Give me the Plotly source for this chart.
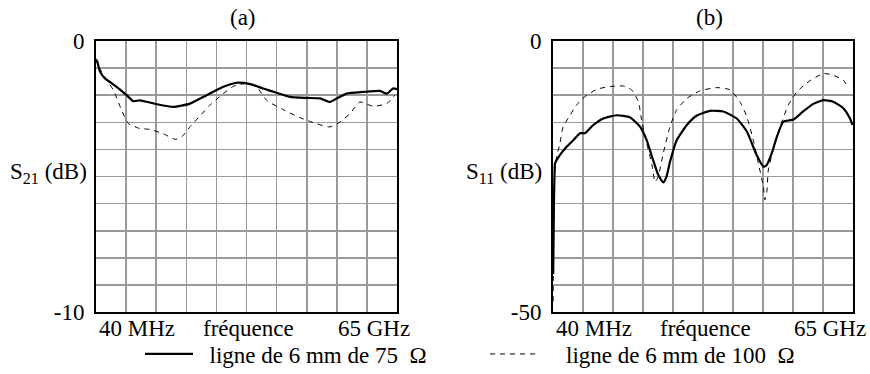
import plotly.graph_objects as go

# ---------------- data ----------------
# panel (a): S21 (dB) vs frequency (GHz)
freq_a_75 = [0.04, 0.29, 0.86, 1.94, 4.46, 6.62, 8.06, 9.5, 13.1, 16.7, 20.3, 23.9, 27.5, 30.4,
             33.3, 36.1, 39.0, 41.9, 45.5, 48.4, 50.5, 52.0, 54.1, 57.7, 61.3, 62.8, 64.2, 65.0]
s21_75 = [-0.70, -0.77, -1.13, -1.38, -1.69, -2.00, -2.22, -2.19, -2.33, -2.43, -2.31, -2.00, -1.69, -1.54,
          -1.59, -1.75, -1.91, -2.06, -2.10, -2.12, -2.25, -2.12, -1.94, -1.88, -1.84, -1.94, -1.75, -1.78]

freq_a_100 = [0.04, 0.14, 1.58, 3.74, 5.54, 7.0, 9.5, 11.66, 14.5, 17.1, 18.5, 20.3, 22.1, 24.6, 27.5,
              29.7, 32.5, 34.7, 36.85, 40.4, 44.05, 47.6, 50.5, 52.7, 54.85, 57.0, 59.8, 62.8, 64.5]
s21_100 = [-0.65, -0.77, -1.26, -1.81, -2.56, -3.05, -3.23, -3.26, -3.42, -3.63, -3.54, -3.17, -2.83, -2.37, -1.94,
           -1.67, -1.57, -1.69, -2.19, -2.53, -2.83, -3.05, -3.17, -2.99, -2.68, -2.25, -2.41, -2.31, -2.00]

# panel (b): S11 (dB) vs frequency (GHz)
freq_b_75 = [0.04, 0.2, 0.35, 0.43, 1.52, 2.96, 4.41, 5.85, 6.93, 8.74, 10.9, 13.8, 16.7, 18.85, 20.3,
             21.7, 22.8, 23.9, 24.6, 25.35, 26.8, 29.0, 31.1, 34.0, 36.9, 39.8, 42.0, 44.1, 45.6, 46.3,
             47.4, 48.5, 49.9, 52.1, 54.2, 56.4, 58.6, 60.7, 62.9, 64.35, 64.9]
s11_75 = [-43.0, -30.0, -24.0, -22.6, -21.0, -19.5, -18.3, -17.0, -17.0, -15.5, -14.3, -13.7, -14.1, -15.8, -18.3,
          -22.0, -24.7, -26.1, -25.0, -22.3, -18.3, -15.5, -13.8, -12.9, -13.0, -14.3, -16.7, -21.0, -23.2, -22.9,
          -20.7, -17.7, -14.9, -14.5, -13.0, -11.6, -10.9, -11.2, -12.4, -14.3, -15.5]

freq_b_100 = [0.04, 0.15, 0.3, 0.8, 1.5, 2.2, 3.7, 5.1, 6.9, 9.5, 12.35, 15.2, 17.0, 18.5, 19.2, 20.3,
              21.4, 22.1, 22.8, 23.9, 25.35, 26.8, 29.0, 31.85, 35.5, 38.35, 40.5, 42.0, 43.4, 44.5,
              45.6, 45.9, 46.3, 46.65, 47.7, 49.2, 51.0, 52.8, 55.7, 58.6, 60.7, 62.9, 64.0]
s11_100 = [-48.0, -35.0, -25.0, -21.3, -18.9, -15.8, -13.7, -11.8, -10.3, -8.9, -8.4, -8.3, -9.0, -11.2, -14.6, -18.9,
           -22.6, -26.0, -25.0, -20.7, -15.8, -12.7, -10.6, -9.2, -8.6, -9.0, -11.2, -14.0, -18.3, -22.6,
           -26.9, -29.3, -28.1, -23.8, -20.1, -15.8, -11.8, -9.4, -7.3, -6.0, -6.3, -7.2, -8.7]

legend_names = ["\u00a0\u00a0ligne de 6 mm de 75 \u00a0\u03a9",
                "\u00a0\u00a0\u00a0\u00a0ligne de 6 mm de 100 \u00a0\u03a9"]
panel_titles = ["(a)", "(b)"]
y_titles = ["S<sub>21</sub> (dB)", "S<sub>11</sub> (dB)"]
x_tick_labels = ["40 MHz", "fréquence", "65 GHz"]
y_ticks_a = [0, -10]
y_ticks_b = [0, -50]

# ---------------- figure ----------------
FONT = "Liberation Serif"
FS = 23
W, H = 870, 374

solid = dict(color="black", width=2.2, shape="spline", smoothing=0.5)
dashed = dict(color="black", width=1, dash="5px,5px", shape="spline", smoothing=0.5)

fig = go.Figure()
fig.add_trace(go.Scatter(x=freq_a_75, y=s21_75, mode="lines", name=legend_names[0],
                         line=solid, xaxis="x", yaxis="y", legend="legend"))
fig.add_trace(go.Scatter(x=freq_a_100, y=s21_100, mode="lines", name=legend_names[1],
                         line=dashed, xaxis="x", yaxis="y", legend="legend2"))
fig.add_trace(go.Scatter(x=freq_b_75, y=s11_75, mode="lines", showlegend=False,
                         line=solid, xaxis="x2", yaxis="y2"))
fig.add_trace(go.Scatter(x=freq_b_100, y=s11_100, mode="lines", showlegend=False,
                         line=dashed, xaxis="x2", yaxis="y2"))

dom_y = [1 - 312 / H, 1 - 41 / H]
dom_xa = [96 / W, 397 / W]
dom_xb = [553 / W, 853 / W]

def xax(domain, anchor):
    return dict(domain=domain, anchor=anchor, range=[0, 65], tick0=0, dtick=6.5,
                showgrid=True, gridcolor="#9a9a9a", gridwidth=1.6, zeroline=False,
                showline=True, mirror=True, linecolor="black", linewidth=2,
                showticklabels=False, ticks="", fixedrange=True)

def yax(domain, anchor, lo, step, labels):
    vals = [lo + step * i for i in range(11)]
    text = [str(v) if v in labels else "" for v in vals]
    return dict(domain=domain, anchor=anchor, range=[lo, 0], tickmode="array",
                tickvals=vals, ticktext=text,
                showgrid=True, gridcolor="#9a9a9a", gridwidth=1.6, zeroline=False,
                showline=True, mirror=True, linecolor="black", linewidth=2,
                ticks="", ticklabelstandoff=5,
                tickfont=dict(family=FONT, size=FS, color="black"), fixedrange=True)

annotations = []
for i, xref in enumerate(["x domain", "x2 domain"]):
    annotations.append(dict(text=panel_titles[i], xref="paper", yref="paper",
                            x=[243 / W, 709 / W][i], y=1 - 18 / H, xanchor="center", yanchor="middle",
                            showarrow=False, font=dict(family=FONT, size=FS, color="black")))
    annotations.append(dict(text=y_titles[i], xref="paper", yref="paper",
                            x=[89 / W, 544 / W][i], y=1 - 173 / H, xanchor="right", yanchor="middle",
                            showarrow=False, font=dict(family=FONT, size=FS, color="black")))
    for lab, fx in zip(x_tick_labels, [0.135, 0.508, 0.922]):
        annotations.append(dict(text=lab, xref=xref, yref="paper", x=fx, y=1 - 328 / H,
                                xanchor="center", yanchor="middle", showarrow=False,
                                font=dict(family=FONT, size=FS, color="black")))

leg_common = dict(orientation="h", xanchor="left", yanchor="middle", y=1 - 354 / H, itemwidth=48,
                  font=dict(family=FONT, size=FS, color="black"),
                  bgcolor="rgba(0,0,0,0)", borderwidth=0)

fig.update_layout(
    width=W, height=H,
    margin=dict(l=0, r=0, t=0, b=0, autoexpand=False),
    paper_bgcolor="white", plot_bgcolor="white",
    xaxis=xax(dom_xa, "y"), yaxis=yax(dom_y, "x", -10, 1, y_ticks_a),
    xaxis2=xax(dom_xb, "y2"), yaxis2=yax(dom_y, "x2", -50, 5, y_ticks_b),
    annotations=annotations,
    showlegend=True,
    legend=dict(x=140 / W, **leg_common),
    legend2=dict(x=485 / W, **leg_common),
    font=dict(family=FONT, size=FS, color="black"),
)

fig.write_html("out.html", post_script="document.body.style.margin='0';",
               config={"displayModeBar": False, "staticPlot": True})
